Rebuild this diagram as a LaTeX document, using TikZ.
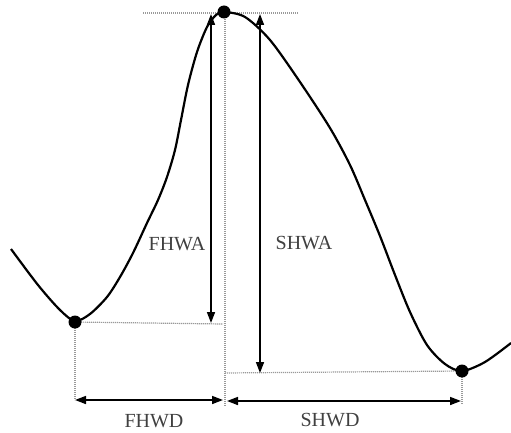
\documentclass[tikz,border=0pt]{standalone}
\usepackage{fontspec}
\setmainfont{Liberation Serif}
\usetikzlibrary{arrows.meta}
\begin{document}
\begin{tikzpicture}[x=1pt,y=-1pt,
  dotline/.style={gray!80,line width=1.2pt,dash pattern=on 1.2pt off 0.8pt},
  dim/.style={line width=1.6pt,{Triangle[length=11pt,width=8pt]}-{Triangle[length=11pt,width=8pt]}},
  pt/.style={circle,fill=black,inner sep=0pt,minimum size=13pt},
  lbl/.style={font=\fontsize{20}{22}\selectfont,text=black!75}]
\useasboundingbox (0,0) rectangle (511,433);
% construction coordinates
\coordinate (tl) at (143,13);
\coordinate (tr) at (298,13);
\coordinate (vt) at (225,13);
\coordinate (vb) at (225,406);
\coordinate (lh) at (223,324);
\coordinate (rh) at (225,373);
\coordinate (lb) at (75,400);
\coordinate (rb) at (462,404);
\coordinate (fa1) at (211,14);
\coordinate (fa2) at (211,323);
\coordinate (sa1) at (260,14);
\coordinate (sa2) at (260,373);
\coordinate (fd1) at (75,400);
\coordinate (fd2) at (223,400);
\coordinate (sd1) at (227,401);
\coordinate (sd2) at (461,401);
\coordinate (lmc) at (75,322);
\coordinate (rmc) at (462,371);
% dotted guides
\draw[dotline] (tl) -- (tr);
\draw[dotline] (vt) -- (vb);
\draw[dotline] (lmc) -- (lh);
\draw[dotline] (rh) -- (rmc);
\draw[dotline] (lmc) -- (lb);
\draw[dotline] (rmc) -- (rb);
% dimension arrows
\draw[dim] (fa1) -- (fa2);
\draw[dim] (sa1) -- (sa2);
\draw[dim] (fd1) -- (fd2);
\draw[dim] (sd1) -- (sd2);
% curve
\draw[line width=2.2pt,line join=round] plot[smooth,tension=0.5] coordinates {
 (11,249) (38,285) (60,310) (75,321) (90,314) (107,297) (120,277) (133,253)
 (147,223) (158,200) (167,177) (175,150) (181,120) (188,85) (197,52) (207,27) (216,15) (224,12)
 (245,17) (270,40) (300,82) (330,128) (350,165) (365,200) (380,236) (395,275)
 (410,312) (427,345) (445,364) (462,371) (485,362) (511,343)};
% key points
\node[pt] (top) at (224,12) {};
\node[pt] (lmin) at (lmc) {};
\node[pt] (rmin) at (rmc) {};
% labels
\node[lbl] (fhwa) at (177,244) {FHWA};
\node[lbl] (shwa) at (304,243) {SHWA};
\node[lbl] (fhwd) at (154,421) {FHWD};
\node[lbl] (shwd) at (330,420) {SHWD};
\end{tikzpicture}
\end{document}
